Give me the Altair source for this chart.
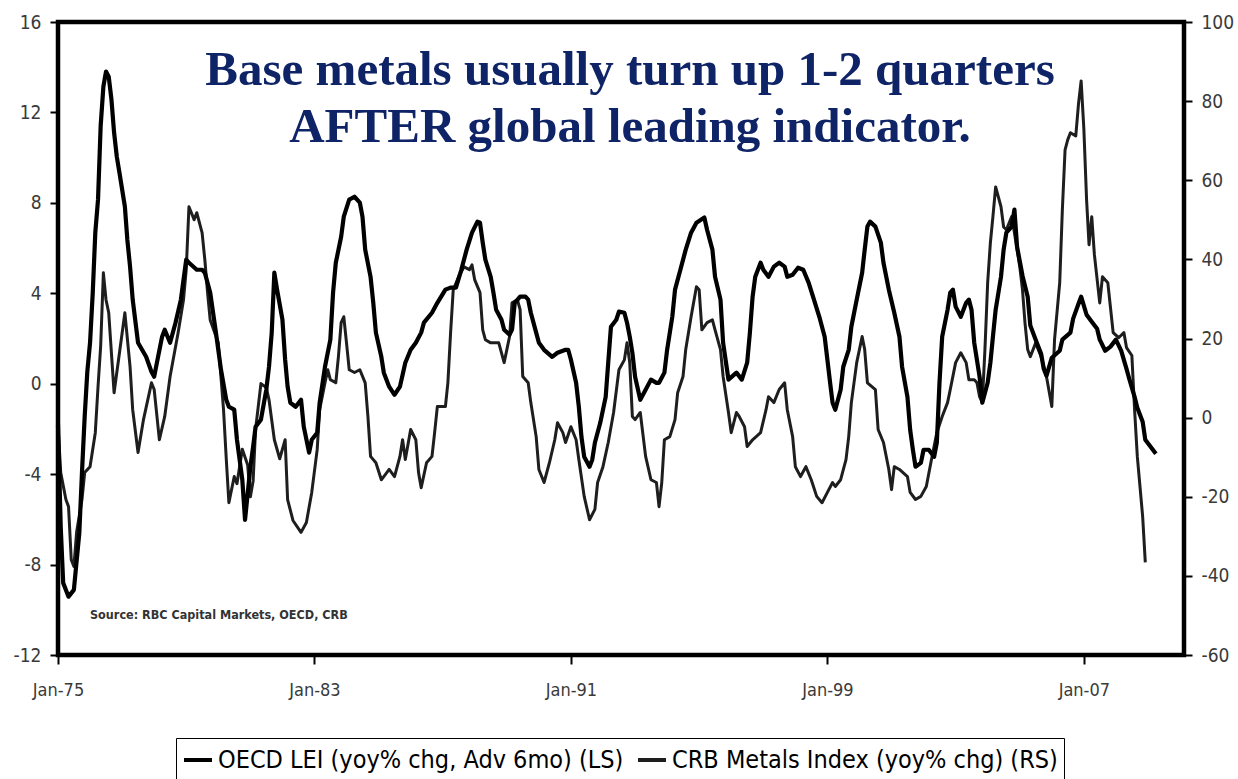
import altair as alt
import pandas as pd

# OECD leading indicator, yoy % change advanced 6 months (left scale)
oecd_dates = [
    "1975-01", "1975-02", "1975-03", "1975-05", "1975-07", "1975-09", "1975-10", "1975-11", "1975-12",
    "1976-01", "1976-02", "1976-03", "1976-04", "1976-05", "1976-06", "1976-07", "1976-08", "1976-09",
    "1976-10", "1976-11", "1976-12",
    "1977-02", "1977-03", "1977-04", "1977-05", "1977-07", "1977-10", "1977-12",
    "1978-01", "1978-02", "1978-04", "1978-05", "1978-07", "1978-09", "1978-11",
    "1979-01", "1979-02", "1979-05", "1979-07", "1979-08", "1979-10", "1979-12",
    "1980-02", "1980-04", "1980-05", "1980-07", "1980-08", "1980-10", "1980-11",
    "1981-01", "1981-02", "1981-03", "1981-05", "1981-07", "1981-08", "1981-09", "1981-10", "1981-11",
    "1982-01", "1982-02", "1982-03", "1982-04", "1982-06", "1982-08", "1982-09", "1982-11", "1982-12",
    "1983-02", "1983-03", "1983-05", "1983-07", "1983-08", "1983-09", "1983-11", "1983-12",
    "1984-02", "1984-04", "1984-06", "1984-07", "1984-08", "1984-10", "1984-11", "1984-12",
    "1985-02", "1985-03", "1985-05", "1985-07", "1985-09", "1985-11",
    "1986-01", "1986-03", "1986-05", "1986-06", "1986-09", "1986-11",
    "1987-02", "1987-04", "1987-06", "1987-08", "1987-10", "1987-12",
    "1988-02", "1988-03", "1988-04", "1988-05", "1988-07", "1988-08", "1988-09", "1988-11", "1988-12",
    "1989-02", "1989-03", "1989-04", "1989-06", "1989-08", "1989-09", "1989-10", "1989-12",
    "1990-01", "1990-03", "1990-06", "1990-08", "1990-11", "1990-12",
    "1991-01", "1991-03", "1991-04", "1991-05", "1991-06", "1991-08", "1991-09", "1991-10", "1991-12",
    "1992-02", "1992-03", "1992-04", "1992-06", "1992-07", "1992-09", "1992-10", "1992-11", "1992-12",
    "1993-01", "1993-03", "1993-05", "1993-07", "1993-09", "1993-10", "1993-12",
    "1994-01", "1994-03", "1994-04", "1994-06", "1994-08", "1994-10", "1994-12",
    "1995-03", "1995-04", "1995-06", "1995-07", "1995-09", "1995-10", "1995-12",
    "1996-03", "1996-05", "1996-07", "1996-08", "1996-09", "1996-10", "1996-12",
    "1997-01", "1997-03", "1997-05", "1997-07", "1997-09", "1997-10", "1997-12",
    "1998-02", "1998-04", "1998-06", "1998-08", "1998-10", "1998-12",
    "1999-01", "1999-02", "1999-03", "1999-04", "1999-06", "1999-07", "1999-09", "1999-10", "1999-12",
    "2000-02", "2000-03", "2000-04", "2000-05", "2000-07", "2000-09", "2000-10", "2000-12",
    "2001-02", "2001-04", "2001-05", "2001-07", "2001-08", "2001-09", "2001-10", "2001-12",
    "2002-01", "2002-03", "2002-05", "2002-06", "2002-07", "2002-08", "2002-10", "2002-11", "2002-12",
    "2003-01", "2003-03", "2003-05", "2003-06", "2003-07", "2003-08", "2003-10", "2003-11",
    "2004-01", "2004-02", "2004-03", "2004-04", "2004-06", "2004-07", "2004-08", "2004-10", "2004-11", "2004-12",
    "2005-02", "2005-04", "2005-05", "2005-07", "2005-09", "2005-10", "2005-11",
    "2006-01", "2006-04", "2006-05", "2006-08", "2006-09", "2006-11", "2006-12",
    "2007-02", "2007-04", "2007-06", "2007-07", "2007-09", "2007-11",
    "2008-01", "2008-03", "2008-05", "2008-06", "2008-08", "2008-09", "2008-11", "2008-12",
    "2009-04",
]
oecd_values = [
    -1.81, -6.33, -8.81, -9.42, -9.12, -6.59, -3.94, -1.46, 0.53,
    1.81, 4.03, 6.68, 8.14, 11.4, 13.14, 13.81, 13.58, 12.57,
    11.11, 10.04, 9.34,
    7.83, 6.37, 5.18, 3.72, 1.81, 1.19, 0.53,
    0.31, 0.93, 2.08, 2.39, 1.81, 2.70, 3.72,
    5.49, 5.35, 5.04, 5.04, 4.91, 4.03, 2.39,
    0.62, -0.71, -1.02, -1.15, -2.48, -4.25, -6.02,
    -3.67, -2.79, -1.90, -1.59, -0.27, 0.75, 2.26, 4.91, 4.16,
    2.83, 1.06, -0.13, -0.84, -1.02, -0.71, -1.90, -3.05, -2.48,
    -2.17, -0.84, 0.75, 1.95, 4.03, 5.35, 6.50, 7.39,
    8.14, 8.27, 8.01, 7.39, 5.93, 4.73, 3.58, 2.26,
    1.19, 0.49, -0.13, -0.49, -0.13, 0.93,
    1.50, 1.81, 2.26, 2.70, 3.14, 3.58,
    4.16, 4.25, 4.25, 5.04, 5.93, 6.68,
    7.17, 7.12, 6.24, 5.49, 4.73, 4.03, 3.27, 2.83, 2.39,
    2.17, 2.39, 3.58, 3.85, 3.85, 3.72, 3.14, 2.26,
    1.81, 1.50, 1.19, 1.37, 1.50, 1.50,
    1.06, 0.04, -1.02, -2.35, -3.23, -3.67, -3.36, -2.61, -1.73,
    -0.58, 0.93, 2.52, 2.83, 3.19, 3.14, 2.70, 2.08, 1.37,
    0.31, -0.71, -0.27, 0.18, 0.04, 0.04, 0.49,
    1.50, 2.96, 4.16, 5.04, 5.93, 6.68, 7.12,
    7.35, 6.81, 5.93, 4.73, 3.72, 1.81, 0.18,
    0.49, 0.18, 0.93, 2.26, 3.85, 4.73, 5.35,
    5.04, 4.73, 5.18, 5.35, 5.18, 4.73, 4.82,
    5.13, 5.04, 4.47, 3.72, 2.96, 2.08,
    1.06, 0.04, -0.84, -1.15, -0.27, 0.75, 1.50, 2.52, 3.72,
    4.91, 5.93, 6.95, 7.17, 6.95, 6.24, 5.35, 4.16,
    3.14, 2.08, 0.75, -0.58, -2.04, -2.92, -3.67, -3.50,
    -2.92, -2.92, -3.23, -2.61, 0.04, 2.08, 3.27, 4.03, 4.16,
    3.41, 2.96, 3.58, 3.72, 3.27, 1.81, 0.31, -0.84,
    0.04, 0.93, 2.08, 3.27, 4.73, 5.93, 6.68, 6.95, 7.70, 6.06,
    4.78, 3.85, 2.57, 1.95, 1.33, 0.66, 0.35,
    1.15, 1.46, 1.95, 2.26, 2.88, 3.54, 3.85,
    3.05, 2.74, 2.43, 1.95, 1.46, 1.64,
    1.95, 1.46, 0.66, 0.22, -0.58, -1.06, -1.68, -2.48,
    -3.10,
]

# CRB metals index, yoy % change (right scale)
crb_dates = [
    "1975-01", "1975-02", "1975-04", "1975-05", "1975-06", "1975-07", "1975-08", "1975-10", "1975-11",
    "1976-01", "1976-03", "1976-04", "1976-05", "1976-06", "1976-07", "1976-08", "1976-10", "1976-11",
    "1977-02", "1977-04", "1977-05", "1977-07", "1977-09", "1977-12",
    "1978-01", "1978-03", "1978-05", "1978-07", "1978-10", "1978-12",
    "1979-01", "1979-02", "1979-04", "1979-05", "1979-07", "1979-08", "1979-09", "1979-10",
    "1980-01", "1980-03", "1980-04", "1980-05", "1980-07", "1980-08", "1980-10", "1980-12",
    "1981-01", "1981-02", "1981-03", "1981-05", "1981-07", "1981-08", "1981-10", "1981-12",
    "1982-02", "1982-03", "1982-05", "1982-08", "1982-10", "1982-12",
    "1983-02", "1983-03", "1983-05", "1983-06", "1983-07", "1983-09", "1983-10", "1983-11", "1983-12",
    "1984-01", "1984-02", "1984-04", "1984-06", "1984-08", "1984-09", "1984-10", "1984-12",
    "1985-02", "1985-03", "1985-05", "1985-07", "1985-09", "1985-10", "1985-11",
    "1986-01", "1986-03", "1986-04", "1986-05", "1986-07", "1986-09", "1986-10", "1986-11",
    "1987-02", "1987-03", "1987-04", "1987-05", "1987-07", "1987-09", "1987-11", "1987-12",
    "1988-01", "1988-03", "1988-04", "1988-05", "1988-07", "1988-10", "1988-12",
    "1989-01", "1989-02", "1989-03", "1989-05", "1989-06", "1989-07", "1989-09", "1989-10", "1989-12",
    "1990-01", "1990-03", "1990-05", "1990-07", "1990-08", "1990-10", "1990-11",
    "1991-01", "1991-03", "1991-04", "1991-06", "1991-08", "1991-10", "1991-11",
    "1992-01", "1992-03", "1992-05", "1992-07", "1992-09", "1992-10", "1992-11", "1992-12",
    "1993-01", "1993-03", "1993-05", "1993-07", "1993-09", "1993-10", "1993-11", "1993-12",
    "1994-02", "1994-04", "1994-05", "1994-07", "1994-08", "1994-10", "1994-12",
    "1995-01", "1995-02", "1995-04", "1995-06", "1995-07", "1995-09", "1995-10", "1995-12",
    "1996-01", "1996-03", "1996-04", "1996-06", "1996-07", "1996-09", "1996-12",
    "1997-02", "1997-03", "1997-05", "1997-07", "1997-09", "1997-10", "1997-12",
    "1998-01", "1998-03", "1998-05", "1998-07", "1998-09", "1998-11",
    "1999-01", "1999-03", "1999-04", "1999-06", "1999-08", "1999-09", "1999-10", "1999-12",
    "2000-02", "2000-03", "2000-04", "2000-07", "2000-08", "2000-10", "2000-12",
    "2001-01", "2001-02", "2001-04", "2001-07", "2001-08", "2001-10", "2001-12",
    "2002-02", "2002-04", "2002-06", "2002-08", "2002-10", "2002-11",
    "2003-01", "2003-03", "2003-05", "2003-06", "2003-08", "2003-09", "2003-10", "2003-11", "2003-12",
    "2004-01", "2004-02", "2004-03", "2004-04", "2004-06", "2004-07", "2004-08", "2004-10", "2004-11",
    "2005-01", "2005-02", "2005-03", "2005-04", "2005-05", "2005-07", "2005-09", "2005-11",
    "2006-01", "2006-02", "2006-04", "2006-05", "2006-06", "2006-07", "2006-08", "2006-10", "2006-11", "2006-12",
    "2007-01", "2007-02", "2007-03", "2007-04", "2007-05", "2007-07", "2007-08", "2007-10", "2007-12",
    "2008-02", "2008-04", "2008-05", "2008-07", "2008-08", "2008-09", "2008-11", "2008-12",
]
crb_values = [
    -2.0, -13.9, -20.7, -22.5, -35.9, -37.6, -29.0, -20.7, -13.9,
    -12.4, -3.8, 7.8, 18.0, 36.6, 29.8, 26.5, 6.3, 11.4,
    26.5, 12.9, 2.0, -8.8, -0.5, 8.8,
    7.1, -5.6, 0.3, 10.4, 21.5, 29.8,
    37.4, 53.3, 50.0, 51.8, 46.7, 39.9, 31.6, 24.7,
    18.9, 2.0, -10.4, -21.5, -14.9, -16.7, -8.0, -12.0,
    -20.0, -16.0, -3.0, 8.6, 7.6, 4.5, -5.6, -10.4,
    -5.6, -20.7, -26.0, -29.0, -26.5, -18.9,
    -8.1, 2.0, 8.8, 12.1, 9.6, 8.8, 15.4, 24.0, 25.5,
    18.9, 12.1, 11.4, 12.1, 8.8, 0.3, -9.8, -11.4,
    -15.7, -14.9, -13.1, -14.9, -9.8, -5.6, -10.6,
    -3.0, -5.6, -13.9, -17.7, -11.4, -9.8, -3.8, 2.8,
    2.8, 8.8, 21.5, 32.3, 35.6, 38.1, 37.4, 38.6,
    34.8, 31.6, 22.2, 19.7, 18.9, 18.9, 13.9,
    17.2, 20.5, 29.0, 29.8, 27.3, 10.4, 8.8, 3.8, -4.8,
    -13.1, -16.4, -11.4, -5.6, -1.3, -3.8, -6.3,
    -2.3, -5.6, -10.6, -19.9, -25.8, -23.2, -16.4,
    -12.4, -6.3, 1.3, 12.1, 14.6, 18.9, 13.9, 0.3,
    -0.5, 1.3, -9.8, -15.7, -16.4, -22.5, -16.4, -5.6,
    -4.8, -0.5, 6.3, 10.4, 17.2, 25.5, 33.1,
    32.3, 22.2, 24.0, 24.7, 22.2, 17.2, 10.4, 1.3,
    -3.8, 1.3, 0.3, -2.3, -7.3, -5.6, -3.8,
    2.0, 5.3, 3.8, 7.1, 8.8, 2.0, -4.8,
    -12.4, -14.9, -12.4, -15.7, -19.9, -21.5,
    -18.9, -16.4, -17.4, -15.7, -10.6, -4.8, 3.8, 13.9,
    20.5, 17.2, 8.8, 7.1, -3.0, -6.3, -13.1,
    -18.2, -12.4, -13.1, -14.9, -18.9, -20.7, -19.9,
    -17.4, -10.6, -3.8, 0.3, 3.8, 7.1,
    13.9, 16.4, 13.9, 9.6, 9.6, 8.8, 5.3, 3.8, 17.2,
    34.1, 44.2, 50.8, 58.3, 53.3, 48.2, 47.5, 50.8, 46.7,
    38.1, 32.3, 24.0, 17.2, 15.4, 18.9, 15.4, 10.4,
    2.8, 19.7, 34.1, 52.5, 67.7, 70.2, 72.0, 71.2, 79.3, 85.1,
    73.0, 55.1, 43.7, 50.8, 41.2, 29.0, 35.6, 34.1, 21.5,
    20.2, 21.5, 17.7, 15.7, 2.0, -9.8, -25.0, -36.6,
]

OECD_LABEL = "OECD LEI (yoy% chg, Adv 6mo) (LS)"
CRB_LABEL = "CRB Metals Index (yoy% chg) (RS)"
series_names = [OECD_LABEL, CRB_LABEL]

left_ticks = [-12, -8, -4, 0, 4, 8, 12, 16]
right_ticks = [-60, -40, -20, 0, 20, 40, 60, 80, 100]
x_tick_years = [1975, 1983, 1991, 1999, 2007]

title_lines = ["Base metals usually turn up 1-2 quarters", "AFTER global leading indicator."]
source_note = "Source: RBC Capital Markets, OECD, CRB"

NARROW = "Liberation Sans Narrow, Arial Narrow, DejaVu Sans Condensed, sans-serif"
SERIF = "Liberation Serif, Times New Roman, serif"
NAVY = "#0f2466"
LABEL_GREY = "#3a3a3a"

oecd_df = pd.DataFrame({"date": oecd_dates, "value": oecd_values, "series": OECD_LABEL})
crb_df = pd.DataFrame({"date": crb_dates, "value": crb_values, "series": CRB_LABEL})


def value_axis(side, ticks):
    # plain hyphen for negatives, ticks pointing out of the frame
    return alt.Axis(
        orient=side,
        values=ticks,
        labelExpr="'' + datum.value",
        title=None,
        grid=False,
        domain=False,
        tickSize=8,
        tickWidth=2,
        tickColor="black",
        labelFont=NARROW,
        labelFontSize=19,
        labelColor=LABEL_GREY,
        labelPadding=9,
        labelFlush=False,
    )


x_enc = alt.X(
    "date:T",
    scale=alt.Scale(
        type="utc",
        domain=[
            alt.DateTime(year=1975, month=1, date=1, utc=True),
            alt.DateTime(year=2010, month=2, date=15, utc=True),
        ],
    ),
    axis=alt.Axis(
        values=[alt.DateTime(year=y, month=1, date=1, utc=True) for y in x_tick_years],
        format="%b-%y",
        title=None,
        grid=False,
        domain=False,
        tickSize=9,
        tickWidth=2,
        tickColor="black",
        labelFont=NARROW,
        labelFontSize=18,
        labelColor=LABEL_GREY,
        labelPadding=17,
        labelFlush=False,
        labelOverlap=False,
    ),
)

color_enc = alt.Color(
    "series:N",
    scale=alt.Scale(domain=series_names, range=["#000000", "#1e1e1e"]),
    legend=alt.Legend(
        title=None,
        orient="none",
        legendX=118,
        legendY=716,
        direction="horizontal",
        symbolType="stroke",
        symbolSize=784,
        symbolStrokeWidth=4,
        labelFont=NARROW,
        labelFontSize=25,
        labelColor="black",
        labelLimit=700,
        labelOffset=4,
        columnPadding=6,
        padding=6,
        strokeColor="black",
        fillColor="white",
    ),
)

crb_line = (
    alt.Chart(crb_df)
    .mark_line(strokeWidth=3.0, strokeJoin="round")
    .encode(
        x=x_enc,
        y=alt.Y(
            "value:Q",
            scale=alt.Scale(domain=[-60, 100], nice=False, zero=False),
            axis=value_axis("right", right_ticks),
        ),
        color=color_enc,
    )
)

oecd_line = (
    alt.Chart(oecd_df)
    .mark_line(strokeWidth=4.2, strokeJoin="round")
    .encode(
        x=x_enc,
        y=alt.Y(
            "value:Q",
            scale=alt.Scale(domain=[-12, 16], nice=False, zero=False),
            axis=value_axis("left", left_ticks),
        ),
        color=color_enc,
    )
)

headline = (
    alt.Chart(pd.DataFrame({"k": [0]}))
    .mark_text(
        text=title_lines,
        font=SERIF,
        fontSize=49,
        fontWeight="bold",
        color=NAVY,
        align="center",
        baseline="alphabetic",
        lineHeight=57,
    )
    .encode(x=alt.value(572), y=alt.value(63))
)

source = (
    alt.Chart(pd.DataFrame({"k": [0]}))
    .mark_text(
        text=source_note,
        font=NARROW,
        fontSize=12.5,
        fontWeight="bold",
        color="#333333",
        align="left",
        baseline="middle",
    )
    .encode(x=alt.value(32), y=alt.value(593))
)

chart = (
    alt.layer(crb_line, oecd_line, headline, source)
    .resolve_scale(y="independent")
    .properties(
        width=1126,
        height=633,
        padding={"left": 58, "top": 22, "right": 54, "bottom": 124},
        autosize=alt.AutoSizeParams(type="none"),
        background="white",
    )
    .configure_view(stroke="black", strokeWidth=4.5)
)

chart.save("out.html", embed_options={"renderer": "svg", "actions": False})
